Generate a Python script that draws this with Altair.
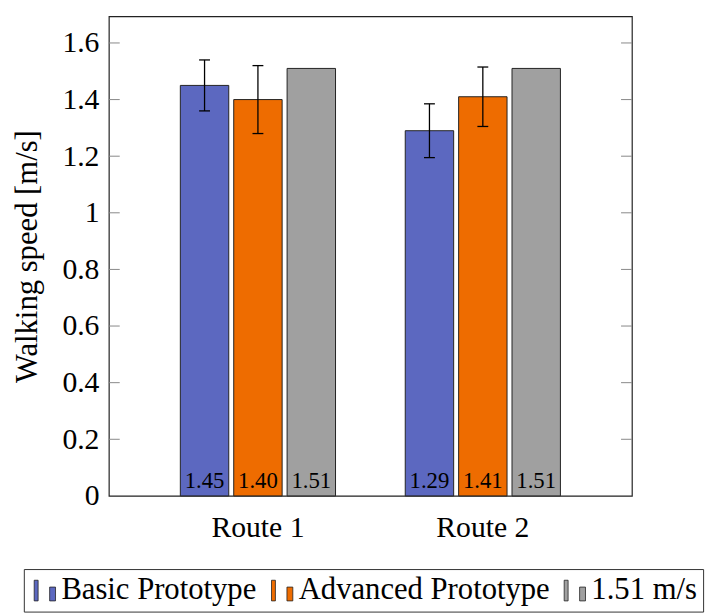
import altair as alt
import pandas as pd

routes = ["Route 1", "Route 2"]
series = ["Basic Prototype", "Advanced Prototype", "1.51 m/s"]
basic = [1.45, 1.29]
advanced = [1.40, 1.41]
reference = [1.51, 1.51]
basic_err = [0.09, 0.095]
advanced_err = [0.12, 0.105]
labels_basic = ["1.45", "1.29"]
labels_adv = ["1.40", "1.41"]
labels_ref = ["1.51", "1.51"]
yticks = [0, 0.2, 0.4, 0.6, 0.8, 1.0, 1.2, 1.4, 1.6]
colors = ["#5c68c0", "#ee6c00", "#a0a0a0"]

rows = []
for i, r in enumerate(routes):
    rows.append(dict(route=r, series=series[0], value=basic[i], err=basic_err[i], label=labels_basic[i]))
    rows.append(dict(route=r, series=series[1], value=advanced[i], err=advanced_err[i], label=labels_adv[i]))
    rows.append(dict(route=r, series=series[2], value=reference[i], err=None, label=labels_ref[i]))
df = pd.DataFrame(rows)
df["zero"] = 0.0
err_df = df.dropna(subset=["err"]).copy()
err_df["lo"] = err_df["value"] - err_df["err"]
err_df["hi"] = err_df["value"] + err_df["err"]
tick_df = pd.DataFrame({"v": yticks[1:]})

FONT = "Liberation Serif"
W, H = 529, 485
yscale = alt.Scale(domain=[0, 1.694], nice=False, zero=True)
xscale = alt.Scale(domain=routes, paddingInner=0.2863, paddingOuter=0.306)
oscale = alt.Scale(domain=series, paddingInner=0.093, paddingOuter=0.05)

YAXIS = alt.Axis(title="Walking speed [m/s]", values=yticks, format=".1~f",
                 domain=False, ticks=False, grid=False, labelPadding=10,
                 titlePadding=19, labelFont=FONT, labelFontSize=30, labelColor="black",
                 titleFont=FONT, titleFontSize=31, titleFontWeight="normal",
                 titleColor="black")

X = alt.X("route:N", scale=xscale, sort=routes,
          axis=alt.Axis(title=None, labelAngle=0, domain=False, ticks=False,
                        labelPadding=17, labelFont=FONT, labelFontSize=30,
                        labelColor="black"))
XO = alt.XOffset("series:N", scale=oscale, sort=series)


def Y(field):
    return alt.Y(field, scale=yscale, axis=YAXIS, title="Walking speed [m/s]")


sym = "M-1,-0.95H-0.64V0.95H-1Z M0.42,-0.32H0.96V0.95H0.42Z"

bars = alt.Chart(df).mark_bar(stroke="#222", strokeWidth=1, opacity=1).encode(
    x=X, xOffset=XO,
    y=Y("value:Q"),
    color=alt.Color("series:N", scale=alt.Scale(domain=series, range=colors), sort=series,
                    legend=alt.Legend(title=None, orient="none", legendX=-86, legendY=559,
                                      direction="horizontal", columns=3,
                                      symbolType=sym, symbolSize=484,
                                      symbolStrokeColor="#222", symbolStrokeWidth=0.8,
                                      symbolOpacity=1, labelLimit=500,
                                      labelFont=FONT, labelFontSize=31, labelColor="black",
                                      labelOffset=1, columnPadding=10, padding=6,
                                      strokeColor="#333", fillColor="white",
                                      cornerRadius=0)),
)

text = alt.Chart(df).mark_text(font=FONT, fontSize=23, baseline="alphabetic", dy=-8,
                               color="black").encode(
    x=X, xOffset=XO, y=Y("zero:Q"), text="label:N")

err_rule = alt.Chart(err_df).mark_rule(color="black", strokeWidth=1.3).encode(
    x=X, xOffset=XO, y=Y("lo:Q"), y2="hi:Q")
cap_hi = alt.Chart(err_df).mark_tick(color="black", thickness=1.3, size=11, opacity=1).encode(
    x=X, xOffset=XO, y=Y("hi:Q"))
cap_lo = alt.Chart(err_df).mark_tick(color="black", thickness=1.3, size=11, opacity=1).encode(
    x=X, xOffset=XO, y=Y("lo:Q"))

tick_l = alt.Chart(tick_df).mark_rule(color="#888", strokeWidth=1).encode(
    x=alt.value(0), x2=alt.value(11), y=Y("v:Q"))
tick_r = alt.Chart(tick_df).mark_rule(color="#888", strokeWidth=1).encode(
    x=alt.value(W - 11), x2=alt.value(W), y=Y("v:Q"))

chart = alt.layer(bars, text, err_rule, cap_hi, cap_lo, tick_l, tick_r).properties(
    width=W, height=H,
    background="white",
    autosize=alt.AutoSizeParams(type="none"),
    padding={"left": 102, "top": 5, "right": 81, "bottom": 116},
).configure_view(stroke="#222", strokeWidth=1.2)

chart.save("out.html", embed_options={"renderer": "svg", "actions": False})
